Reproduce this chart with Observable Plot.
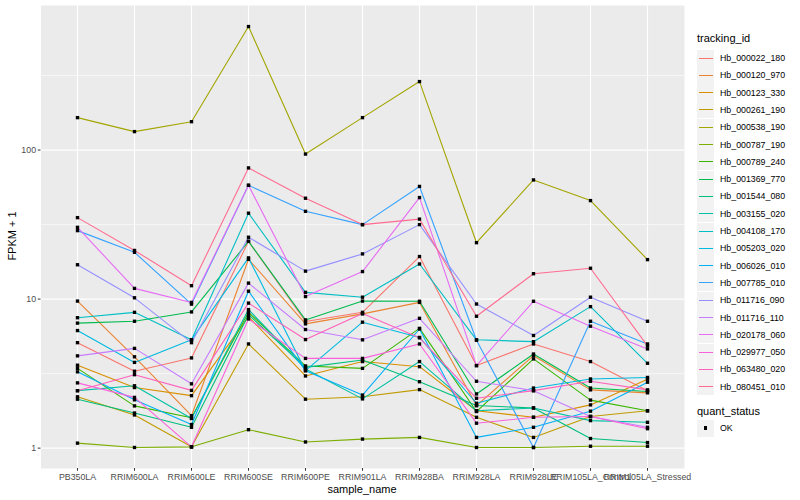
<!DOCTYPE html>
<html>
<head>
<meta charset="utf-8">
<script src="https://cdn.jsdelivr.net/npm/d3@7"></script>
<script src="https://cdn.jsdelivr.net/npm/@observablehq/plot@0.6"></script>
<style>
  html, body { margin: 0; padding: 0; background: #fff; }
  #wrap { position: relative; width: 800px; height: 500px; font-family: "Liberation Sans", Arial, sans-serif; }
  #chart { position: absolute; left: 0; top: 0; }
  .ttl { position: absolute; font-size: 11px; line-height: 12px; color: #000; white-space: nowrap; }
  .lgtxt { position: absolute; font-size: 8.8px; line-height: 10px; color: #000; white-space: nowrap; }
  .key { position: absolute; width: 17px; height: 17px; background: #F2F2F2; }
</style>
</head>
<body>
<div id="wrap">
  <div id="chart"></div>
</div>
<script>
// ---- data ----
const samples = ["PB350LA","RRIM600LA","RRIM600LE","RRIM600SE","RRIM600PE","RRIM901LA","RRIM928BA","RRIM928LA","RRIM928LE","RRIM105LA_Control","RRIM105LA_Stressed"];
const ids = ["Hb_000022_180","Hb_000120_970","Hb_000123_330","Hb_000261_190","Hb_000538_190","Hb_000787_190","Hb_000789_240","Hb_001369_770","Hb_001544_080","Hb_003155_020","Hb_004108_170","Hb_005203_020","Hb_006026_010","Hb_007785_010","Hb_011716_090","Hb_011716_110","Hb_020178_060","Hb_029977_050","Hb_063480_020","Hb_080451_010"];
const colors = ["#F8766D","#EA8331","#D89000","#C09B00","#A3A500","#7CAE00","#39B600","#00BB4E","#00BF7D","#00C1A3","#00BFC4","#00BAE0","#00B0F6","#35A2FF","#9590FF","#C77CFF","#E76BF3","#FA62DB","#FF62BC","#FF6C91"];

const hb_000022_180 = [5.1, 3.28, 4.03, 24.4, 7.07, 8.15, 19.3, 3.58, 5.0, 3.81, 2.43];
const hb_000120_970 = [9.7, 4.1, 1.65, 18.5, 6.82, 7.96, 9.5, 1.93, 4.17, 2.46, 2.35];
const hb_000123_330 = [3.6, 2.55, 2.25, 7.6, 3.05, 3.81, 3.52, 1.78, 1.61, 1.95, 2.9];
const hb_000261_190 = [2.21, 1.67, 1.02, 5.0, 2.13, 2.21, 2.47, 1.61, 1.18, 1.63, 1.78];
const hb_000538_190 = [165, 133, 155, 674, 94, 165, 288, 23.9, 63, 45.8, 18.4];
const hb_000787_190 = [1.08, 1.01, 1.02, 1.33, 1.10, 1.15, 1.18, 1.01, 1.01, 1.03, 1.03];
const hb_000789_240 = [3.43, 1.92, 1.6, 8.15, 3.56, 3.43, 6.36, 1.76, 3.97, 2.1, 1.78];
const hb_001369_770 = [6.9, 7.1, 8.2, 24.4, 7.25, 9.7, 9.67, 2.31, 4.28, 2.53, 2.4];
const hb_001544_080 = [2.13, 1.72, 1.38, 7.86, 3.48, 3.9, 2.79, 1.93, 1.86, 1.16, 1.09];
const hb_003155_020 = [2.43, 2.62, 1.58, 8.5, 3.40, 2.14, 3.81, 1.78, 1.86, 1.53, 1.49];
const hb_004108_170 = [7.5, 8.15, 5.33, 37.7, 11.1, 10.3, 17.2, 5.33, 5.18, 8.9, 3.71];
const hb_005203_020 = [6.15, 3.76, 5.33, 18.9, 3.31, 7.0, 5.53, 2.0, 2.53, 2.91, 2.98];
const hb_006026_010 = [3.25, 2.11, 1.44, 11.3, 3.31, 2.27, 6.3, 1.18, 1.38, 1.77, 2.77];
const hb_007785_010 = [28.8, 20.6, 9.25, 58, 38.8, 31.6, 57, 5.3, 1.01, 7.1, 5.0];
const hb_011716_090 = [17.0, 10.2, 5.1, 26, 15.4, 20.1, 31.6, 9.27, 5.7, 10.3, 7.1];
const hb_011716_110 = [4.16, 4.67, 2.7, 12.8, 6.25, 5.33, 7.43, 2.81, 2.43, 1.63, 1.38];
const hb_020178_060 = [30.3, 11.8, 9.5, 58, 10.4, 15.3, 48, 3.58, 9.67, 6.58, 4.63];
const hb_029977_050 = [2.74, 2.19, 1.02, 7.36, 4.0, 4.0, 5.0, 1.47, 1.61, 1.63, 1.35];
const hb_063480_020 = [2.43, 3.11, 2.44, 9.4, 5.35, 8.0, 5.5, 2.16, 2.43, 2.81, 2.46];
const hb_080451_010 = [35.2, 21.2, 12.3, 75.9, 47.5, 31.6, 34.4, 7.67, 14.8, 16.1, 4.85];

const yMajorTicks = [1, 10, 100];
const yMinorTicks = [3.1623, 31.623, 316.23];
const statusLevels = ["OK"];

const seriesValues = [hb_000022_180, hb_000120_970, hb_000123_330, hb_000261_190, hb_000538_190, hb_000787_190, hb_000789_240, hb_001369_770, hb_001544_080, hb_003155_020, hb_004108_170, hb_005203_020, hb_006026_010, hb_007785_010, hb_011716_090, hb_011716_110, hb_020178_060, hb_029977_050, hb_063480_020, hb_080451_010];

const rows = ids.flatMap((id, i) => samples.map((s, j) => ({id, sample: s, value: seriesValues[i][j], status: "OK"})));

const chart = Plot.plot({
  width: 690,
  height: 500,
  marginLeft: 40.5,
  marginRight: 6,
  marginTop: 5,
  marginBottom: 32,
  style: {fontFamily: '"Liberation Sans", Arial, sans-serif', fontSize: "8.8px", color: "#4D4D4D", background: "white", overflow: "visible"},
  x: {type: "point", domain: samples, padding: 0.6, label: null},
  y: {type: "log", domain: [0.73, 933], label: null},
  color: {domain: ids, range: colors},
  marks: [
    Plot.frame({fill: "#EBEBEB", stroke: null}),
    Plot.gridY(yMinorTicks, {stroke: "white", strokeWidth: 0.6, strokeOpacity: 1}),
    Plot.gridY(yMajorTicks, {stroke: "white", strokeWidth: 1.15, strokeOpacity: 1}),
    Plot.gridX(samples, {stroke: "white", strokeWidth: 1.15, strokeOpacity: 1}),
    Plot.line(rows, {x: "sample", y: "value", z: "id", stroke: "id", strokeWidth: 1.1}),
    Plot.dot(rows, {x: "sample", y: "value", symbol: "square", r: 1.9, fill: "black", stroke: null}),
    Plot.axisY(yMajorTicks, {tickFormat: d => String(d), tickSize: 2.75, tickPadding: 2.2, label: null, stroke: "#333"}),
    Plot.axisX(samples, {tickSize: 2.75, tickPadding: 2.5, label: null, stroke: "#333"})
  ]
});
document.getElementById("chart").appendChild(chart);

// ---- axis titles & legends ----
const wrap = document.getElementById("wrap");
function addDiv(cls, text, left, top, extra) {
  const d = document.createElement("div");
  d.className = cls;
  if (text != null) d.textContent = text;
  d.style.left = left + "px";
  d.style.top = top + "px";
  if (extra) Object.assign(d.style, extra);
  wrap.appendChild(d);
  return d;
}
addDiv("ttl", "sample_name", 362, 483, {transform: "translateX(-50%)"});
addDiv("ttl", "FPKM + 1", 12, 236, {transform: "translate(-50%,-50%) rotate(-90deg)"});

addDiv("ttl", "tracking_id", 697, 32);
const rowH = 17.3;
ids.forEach((id, i) => {
  const cy = 58 + i * rowH;
  const k = addDiv("key", null, 697, cy - 8.5);
  const ln = document.createElement("div");
  Object.assign(ln.style, {position: "absolute", left: "1.5px", right: "1.5px", top: "8px", height: "1.1px", background: colors[i]});
  k.appendChild(ln);
  addDiv("lgtxt", id, 720, cy - 5);
});
addDiv("ttl", "quant_status", 697, 405);
statusLevels.forEach((s, i) => {
  const cy = 428 + i * rowH;
  const k = addDiv("key", null, 697, cy - 8.5);
  const pt = document.createElement("div");
  Object.assign(pt.style, {position: "absolute", left: "6.6px", top: "6.6px", width: "3.8px", height: "3.8px", background: "black"});
  k.appendChild(pt);
  addDiv("lgtxt", s, 720, cy - 5);
});
</script>
</body>
</html>
